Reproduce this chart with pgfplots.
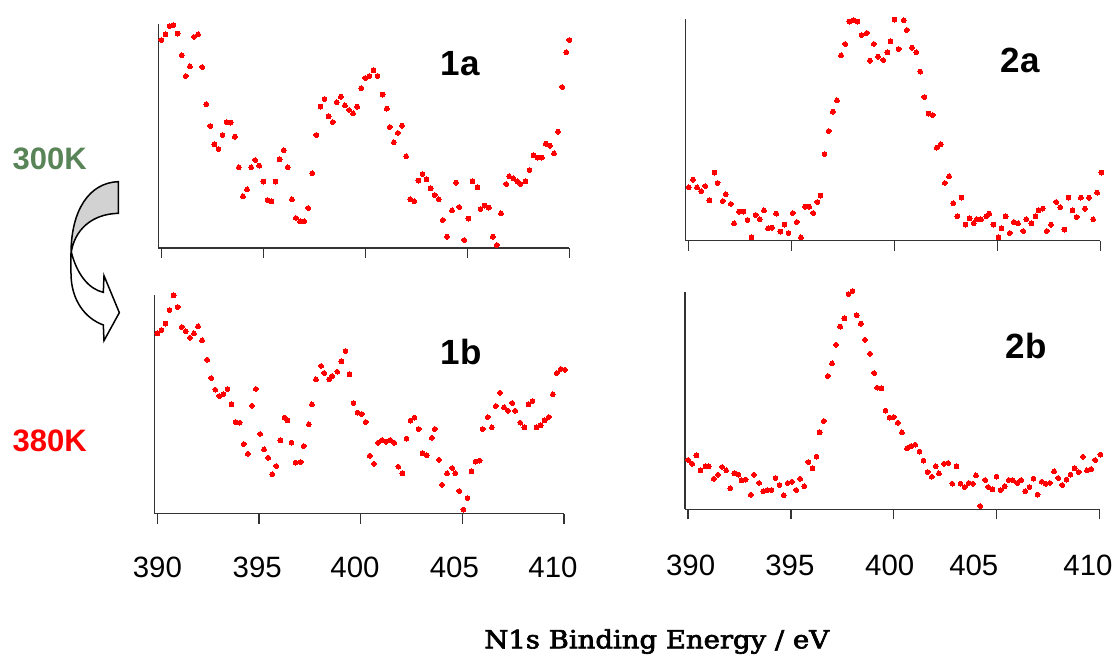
\documentclass[border=0pt]{standalone}
\usepackage{graphicx}
\usepackage{pgfplots}
\pgfplotsset{compat=1.18}
\usepackage{fontspec}
\setmainfont{Liberation Sans}
\newfontfamily\labelserif[FakeBold=2.5]{DejaVu Serif}
\definecolor{kgreen}{RGB}{88,132,88}
% tick label moved sideways by #1 bp
\newcommand{\tl}[2]{\makebox[0pt]{\hspace*{#1bp}\hspace*{#1bp}#2}}

\pgfplotsset{
  panel/.style={
    scale only axis, anchor=south west,
    axis x line*=bottom, axis y line*=left,
    axis line style={black!80, line width=0.65bp},
    xmin=389.85, xmax=410, ymin=0,
    enlargelimits=false, clip=false,
    ytick=\empty, xtick={390,395,400,405,410},
    tick align=outside, major tick length=5bp,
    every tick/.style={black!80, line width=0.65bp},
  },
  nolabels/.style={xticklabels={\mbox{},\mbox{},\mbox{},\mbox{},\mbox{}}},
  bottomlabels/.style={
    xticklabel style={font=\fontsize{14.7bp}{16bp}\selectfont, anchor=base, inner sep=0pt, yshift=#1},
  },
  dots/.style={color=red, only marks, mark=*, mark size=1.2bp, mark options={draw=red, fill=red, line width=0pt}},
}

\begin{document}
\begin{tikzpicture}
\useasboundingbox (0,0) rectangle (558.5bp,328bp);

% ---- 1a ----
\begin{axis}[panel, nolabels, at={(79.15bp,204bp)}, width=205.5bp, height=112bp, ymax=224]
\addplot[dots] table {
390.0 208
390.2 213.7
390.4 222
390.6 223
390.8 214.3
391.0 192.7
391.2 172
391.4 181.7
391.6 211
391.8 213.7
392.0 181
392.2 143.7
392.4 122
392.6 103.7
392.8 99
393.0 113
393.2 126
393.4 125.3
393.6 111.3
393.8 80.7
394.0 51.7
394.2 58.7
394.4 80.7
394.6 88
394.8 82.3
395.0 66.3
395.2 48
395.4 46.7
395.6 66.3
395.8 88.7
396.0 97.7
396.2 80.7
396.4 48.7
396.6 30
396.8 26.7
397.0 26.7
397.2 40
397.4 74.7
397.6 113
397.8 141.3
398.0 149
398.2 131.7
398.4 126
398.6 145.7
398.8 151.3
399.0 142.7
399.2 138
399.4 134.7
399.6 141.3
399.8 159.7
400.0 170
400.2 172
400.4 177.7
400.6 172
400.85 153.3
401.05 139.3
401.2 121
401.4 105.7
401.6 115
401.8 122.3
402.0 91.7
402.2 48.7
402.4 46.7
402.6 67.3
402.8 74
403.0 68.7
403.2 59.7
403.4 53
403.6 48.7
403.8 28
404.0 11.3
404.25 37.7
404.45 65.3
404.6 41
404.85 8
405.05 29.3
405.25 66.7
405.5 60.7
405.65 39
405.85 42.3
406.05 40.3
406.25 11.3
406.45 3
406.65 34.7
406.9 64
407.05 71.7
407.25 69.7
407.45 66.7
407.6 64
407.85 66.7
408.05 78
408.25 92.7
408.45 90.3
408.65 90.3
408.85 104.3
409.05 102.3
409.25 94.7
409.45 116.3
409.65 161
409.85 195.7
410.0 208
};
\end{axis}

% ---- 1b ----
\begin{axis}[panel, bottomlabels=-26.8bp, at={(77.15bp,71.15bp)}, width=204.85bp, height=109.35bp, ymax=218.7,
  xticklabels={\tl{0}{390},\tl{-0.9}{395},\tl{-2.85}{400},\tl{-4}{405},\tl{-5.5}{410}}]
\addplot[dots] table {
390.0 180.3
390.2 183.7
390.4 190
390.6 203.7
390.8 218.3
391.0 206.7
391.2 186.7
391.4 182.3
391.6 176
391.8 180.3
392.0 187.3
392.2 173.3
392.45 154
392.65 135.7
392.85 124
393.05 117.7
393.25 119.7
393.45 124.7
393.65 109.3
393.85 91.7
394.05 91
394.25 69.7
394.45 60
394.65 108
394.85 124.7
395.05 79.7
395.25 64.3
395.45 56
395.65 39.3
395.85 47.7
396.05 73.3
396.25 96
396.4 93.3
396.6 71
396.8 51
397.05 51.7
397.2 67.7
397.45 89.3
397.6 109.3
397.8 134.3
398.05 147.7
398.2 140.7
398.45 134.3
398.6 137.7
398.85 142
399.05 152.3
399.25 162.7
399.45 139.3
399.65 110.7
399.85 101
400.05 99.7
400.25 91.7
400.45 58
400.65 50
400.85 71
401.05 73.7
401.25 72
401.45 73.7
401.65 71
401.85 47
402.05 40.3
402.25 75
402.45 93
402.65 96
402.85 84.7
403.05 60.3
403.25 58.3
403.5 76
403.65 84.7
403.85 54
404.0 29
404.25 40.3
404.5 45.7
404.65 40.3
404.85 22.7
405.05 4
405.25 15.7
405.45 42.3
405.65 52
405.85 53
406.0 84.7
406.25 96.7
406.45 86.3
406.65 107.7
406.85 121
407.05 106.3
407.25 103
407.45 110.7
407.6 103
407.85 91
408.05 86.3
408.25 109.3
408.45 112.7
408.65 86.3
408.85 88.3
409.05 93.3
409.25 96.7
409.45 119.3
409.65 140.7
409.85 144.7
410.05 144
};
\end{axis}

% ---- 2a ----
\begin{axis}[panel, nolabels, at={(342.85bp,207.65bp)}, width=207.3bp, height=110.7bp, ymax=221.4]
\addplot[dots] table {
390.0 53.4
390.2 61
390.4 53.4
390.6 49.4
390.8 54.7
391.0 40.4
391.25 68
391.4 57.7
391.65 39.7
391.8 46.4
392.05 36.7
392.2 17.4
392.45 29
392.65 29
392.85 20.7
393.05 3.4
393.25 25.7
393.45 21.4
393.65 30.4
393.85 12.4
394.05 13
394.25 27
394.45 9
394.65 16
394.85 7.7
395.05 27.7
395.25 18.7
395.45 3.4
395.65 34
395.85 34
396.05 27.7
396.25 38.7
396.4 45
396.6 86.7
396.8 109.7
397.0 129
397.2 140.4
397.4 185.4
397.6 196.7
397.8 219
398.0 220.4
398.2 219
398.4 205.7
398.65 207.7
398.8 180
399.0 196.7
399.2 184
399.45 180.7
399.65 188.4
399.8 199.4
400.0 221
400.2 191.7
400.45 220.4
400.6 210.7
400.85 193
401.05 188.4
401.25 169
401.45 143.7
401.65 127
401.85 125.7
402.05 93
402.25 96.4
402.45 57.7
402.65 64.4
402.85 37.4
403.05 24.4
403.25 43
403.45 16
403.65 22.4
403.85 17.4
404.0 21.4
404.2 21.4
404.45 24.4
404.6 27
404.8 16
405.05 3.4
405.2 12.4
405.4 24.4
405.6 7.7
405.8 18.7
406.0 17.4
406.25 9.7
406.4 21.4
406.65 17.4
406.85 24.4
407.0 30.4
407.2 32
407.4 9.7
407.6 16
407.85 38.7
408.05 33.4
408.25 11
408.45 43
408.65 30.4
408.85 23.7
409.05 43
409.25 32
409.45 43
409.65 21.4
409.85 48
410.05 68
};
\end{axis}

% ---- 2b ----
\begin{axis}[panel, bottomlabels=-28.2bp, at={(342.5bp,73.35bp)}, width=207.15bp, height=108.8bp, ymax=217.6,
  xticklabels={\tl{1.25}{390},\tl{-0.5}{395},\tl{-2}{400},\tl{-11.35}{405},\tl{-5.65}{410}}]
\addplot[dots] table {
390.0 49.3
390.2 45.6
390.4 54
390.6 39
390.85 43
391.0 43
391.25 30.6
391.45 34.6
391.65 42.3
391.85 39
392.05 21
392.25 36
392.45 34.6
392.6 29
392.8 29.6
393.05 14.6
393.2 34.6
393.45 26.3
393.65 18
393.85 19.3
394.05 19.3
394.25 31.3
394.45 24.3
394.65 14
394.85 26.3
395.05 27.6
395.25 19.3
395.45 30.6
395.65 23
395.85 47.3
396.05 41
396.25 52.6
396.4 77
396.6 88.3
396.8 133.3
397.0 146
397.2 164.6
397.4 182.6
397.6 191
397.8 215.3
398.0 218.3
398.2 194
398.4 185.6
398.6 169.6
398.85 155.6
399.05 136.3
399.2 121.6
399.4 121
399.6 98.6
399.8 91.6
400.0 92.3
400.2 86.6
400.4 77
400.65 61
400.85 63.3
401.05 64.6
401.25 57.6
401.45 48.6
401.65 37.3
401.85 32.6
402.05 43
402.2 36
402.45 45.6
402.65 46.3
402.85 25.6
403.05 43
403.25 25.6
403.45 22.3
403.65 26.3
403.85 25.6
404.0 34
404.2 3.3
404.45 29.3
404.6 22.3
404.8 20
405.0 32.6
405.2 19.3
405.4 23
405.6 29.3
405.8 29
406.0 26.3
406.2 29.3
406.4 18
406.6 22.3
406.8 30.6
407.0 14.6
407.2 27.6
407.4 25.6
407.6 26.3
407.8 38
408.0 31.3
408.2 24.3
408.4 29.6
408.6 34.6
408.8 41
409.0 37.3
409.2 52.6
409.4 39
409.6 40.3
409.8 49.3
410.05 54.6
};
\end{axis}

% panel names and temperatures
\begin{scope}[every node/.style={inner sep=0pt, font=\fontsize{17.5bp}{20bp}\selectfont\bfseries}]
\node at (230.15bp,296.4bp) {1a};
\node at (230.5bp,152bp) {1b};
\node at (510bp,298bp) {2a};
\node at (513bp,155bp) {2b};
\end{scope}
\node[inner sep=0pt, text=kgreen, font=\fontsize{15.5bp}{18bp}\selectfont\bfseries] at (24.85bp,248.5bp) {300K};
\node[inner sep=0pt, text=red, font=\fontsize{15.5bp}{18bp}\selectfont\bfseries] at (24.85bp,107.35bp) {380K};

% curved arrow
\begin{scope}[x=0.166667bp, y=-0.166667bp, shift={(0,263bp)}, line width=0.75bp, line join=miter]
\filldraw[fill=white, draw=black] (215,370) .. controls (232,435) and (268,478) .. (310,487)
  -- (312,437) -- (358,548) -- (312,632) -- (310,585)
  .. controls (255,565) and (213,510) .. (213,430) -- (213,372) -- cycle;
\filldraw[fill=gray!35, draw=black] (355,155) .. controls (268,158) and (213,240) .. (213,372)
  .. controls (222,300) and (275,252) .. (355,250) -- cycle;
\end{scope}

\node[anchor=base, inner sep=0pt] at (328.35bp,3.85bp)
  {\scalebox{1.1}[1]{\labelserif\fontsize{12.5bp}{15bp}\selectfont N1s Binding Energy / eV}};
\end{tikzpicture}
\end{document}
